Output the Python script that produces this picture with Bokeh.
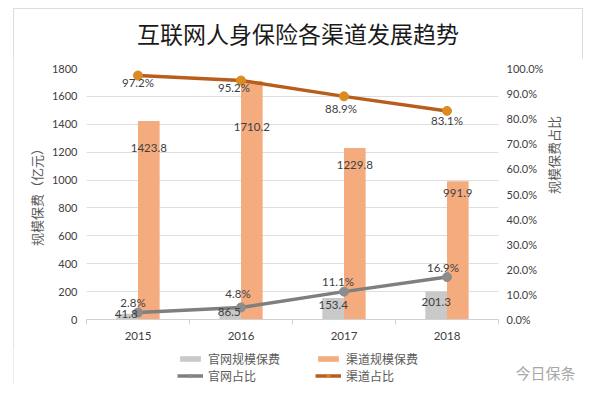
import math
from bokeh.plotting import figure
from bokeh.layouts import column
from bokeh.models import (ColumnDataSource, Range1d, LinearAxis, FixedTicker,
                          PrintfTickFormatter, Legend, LegendItem, Label, Div)
from bokeh.transform import dodge
from bokeh.core.properties import value
from bokeh.embed import file_html
from bokeh.resources import INLINE

# ---- data ----
title_text = "互联网人身保险各渠道发展趋势"
years = ["2015", "2016", "2017", "2018"]
official_premium = [41.8, 86.5, 153.4, 201.3]      # 官网规模保费 (亿元)
channel_premium = [1423.8, 1710.2, 1229.8, 991.9]  # 渠道规模保费 (亿元)
official_share = [2.8, 4.8, 11.1, 16.9]             # 官网占比 (%)
channel_share = [97.2, 95.2, 88.9, 83.1]            # 渠道占比 (%)

left_ticks = [0, 200, 400, 600, 800, 1000, 1200, 1400, 1600, 1800]
right_ticks = [0, 10, 20, 30, 40, 50, 60, 70, 80, 90, 100]

# ---- label pixel offsets (style only) ----
cp_dx = [0, 0, 0, 0]
cp_dy = [27, 46, 17, 12]
op_dx = [-1, -1, 0, 0]
op_dy = [0, 5, 7, 11]
os_dx = [-5, -3, -6, -4]
os_dy = [-10, -14, -10, -10]
cs_dx = [0, -7, -3, 0]
cs_dy = [7, 7, 12, 10]

xs = list(range(len(years)))
src = ColumnDataSource(dict(
    x=xs, op=official_premium, cp=channel_premium,
    os=official_share, cs=channel_share,
    op_t=[f"{v:.1f}" for v in official_premium],
    cp_t=[f"{v:.1f}" for v in channel_premium],
    os_t=[f"{v:.1f}%" for v in official_share],
    cs_t=[f"{v:.1f}%" for v in channel_share],
    cp_dx=cp_dx, cp_dy=cp_dy, op_dx=op_dx, op_dy=op_dy,
    os_dx=os_dx, os_dy=os_dy, cs_dx=cs_dx, cs_dy=cs_dy,
))

GRAY_BAR = "#c9c9c9"
ORANGE_BAR = "#f4ac7f"
GRAY_LINE = "#7f7f7f"
GRAY_MK = "#8c8c8c"
ORANGE_LINE = "#b85e1c"
ORANGE_MK = "#dc8a22"
TXT = "#404040"
NUM_FONT = "Lato"
CJK = "Noto Sans CJK SC"

# ---- title (HTML text) ----
title_div = Div(text=title_text, width=570, height=50, margin=0,
                styles={"font-family": CJK, "font-size": "23px", "line-height": "50px",
                        "text-align": "center", "color": "#1a1a1a"})

# ---- main chart ----
p = figure(width=570, height=290, x_range=Range1d(-0.5, 3.5), y_range=Range1d(0, 1800),
           output_backend="svg", toolbar_location=None, margin=0,
           min_border_left=73, min_border_right=85, min_border_top=10, min_border_bottom=29)
p.frame_align = False
p.extra_y_ranges = {"pct": Range1d(0, 100)}
p.outline_line_color = None
p.background_fill_color = "white"
p.border_fill_color = "white"

bw = 0.21
bar_kw_o = dict(fill_color=GRAY_BAR, line_color=None)
bar_kw_c = dict(fill_color=ORANGE_BAR, line_color=None)
p.vbar(x=dodge("x", -bw / 2), top="op", width=bw, source=src, **bar_kw_o)
p.vbar(x=dodge("x", bw / 2), top="cp", width=bw, source=src, **bar_kw_c)

line_kw_o = dict(line_color=GRAY_LINE, line_width=3.5)
line_kw_c = dict(line_color=ORANGE_LINE, line_width=3.5)
mk_kw_o = dict(size=9, fill_color=GRAY_MK, line_color=GRAY_MK)
mk_kw_c = dict(size=9, fill_color=ORANGE_MK, line_color=ORANGE_MK)
p.line(x="x", y="os", source=src, y_range_name="pct", **line_kw_o)
p.scatter(x="x", y="os", source=src, y_range_name="pct", **mk_kw_o)
p.line(x="x", y="cs", source=src, y_range_name="pct", **line_kw_c)
p.scatter(x="x", y="cs", source=src, y_range_name="pct", **mk_kw_c)

lbl_kw = dict(source=src, text_align="center", text_baseline="middle",
              text_font=value(NUM_FONT), text_font_size="11.5px", text_color=TXT)
p.text(x=dodge("x", bw / 2), y="cp", text="cp_t", x_offset="cp_dx", y_offset="cp_dy", **lbl_kw)
p.text(x=dodge("x", -bw / 2), y="op", text="op_t", x_offset="op_dx", y_offset="op_dy", **lbl_kw)
p.text(x="x", y="os", text="os_t", x_offset="os_dx", y_offset="os_dy", y_range_name="pct", **lbl_kw)
p.text(x="x", y="cs", text="cs_t", x_offset="cs_dx", y_offset="cs_dy", y_range_name="pct", **lbl_kw)

xa = p.xaxis[0]
xa.ticker = FixedTicker(ticks=xs, minor_ticks=[-0.5, 0.5, 1.5, 2.5, 3.5])
xa.major_label_overrides = {i: y for i, y in enumerate(years)}
xa.major_tick_out = 0
xa.major_tick_in = 0
xa.minor_tick_out = 5
xa.minor_tick_in = 0
xa.axis_line_color = "#d0d0d0"
xa.minor_tick_line_color = "#d0d0d0"
xa.major_label_text_font = NUM_FONT
xa.major_label_text_font_size = "11.5px"
xa.major_label_text_color = TXT
xa.major_label_standoff = 7
p.xgrid.visible = False

ya = p.yaxis[0]
ya.ticker = FixedTicker(ticks=left_ticks)
ya.axis_line_color = None
ya.major_tick_out = 0
ya.major_tick_in = 0
ya.minor_tick_out = 0
ya.minor_tick_in = 0
ya.major_tick_line_color = None
ya.minor_tick_line_color = None
ya.major_label_text_font = NUM_FONT
ya.major_label_text_font_size = "11px"
ya.major_label_text_color = TXT
ya.major_label_standoff = 9
ya.axis_label = "规模保费（亿元）"
ya.axis_label_text_font = CJK
ya.axis_label_text_font_size = "13px"
ya.axis_label_text_font_style = "normal"
ya.axis_label_text_color = "#595959"
ya.axis_label_standoff = 3
p.ygrid.ticker = FixedTicker(ticks=left_ticks)
p.ygrid.grid_line_color = "#dedede"

ra = LinearAxis(y_range_name="pct", ticker=FixedTicker(ticks=right_ticks),
                formatter=PrintfTickFormatter(format="%.1f%%"))
ra.axis_line_color = None
ra.major_tick_out = 0
ra.major_tick_in = 0
ra.minor_tick_out = 0
ra.minor_tick_in = 0
ra.major_tick_line_color = None
ra.minor_tick_line_color = None
ra.major_label_text_font = NUM_FONT
ra.major_label_text_font_size = "11px"
ra.major_label_text_color = TXT
ra.major_label_standoff = 8
ra.axis_label = "规模保费占比"
ra.axis_label_orientation = math.pi / 2
ra.axis_label_text_font = CJK
ra.axis_label_text_font_size = "13px"
ra.axis_label_text_font_style = "normal"
ra.axis_label_text_color = "#595959"
ra.axis_label_standoff = 7
p.add_layout(ra, "right")

# ---- legend strip: same series drawn far out of view, used only as legend swatches ----
lg = figure(width=570, height=36, x_range=Range1d(-1001, -1000), y_range=Range1d(-1001, -1000),
            x_axis_type=None, y_axis_type=None, output_backend="svg", toolbar_location=None,
            min_border=0, margin=0)
lg.frame_align = False
lg.outline_line_color = None
lg.grid.visible = False
lg.background_fill_color = "white"
lg.border_fill_color = "white"
sw_bar_o = lg.vbar(x="x", top="op", width=bw, source=src, **bar_kw_o)
sw_bar_c = lg.vbar(x="x", top="cp", width=bw, source=src, **bar_kw_c)
sw_line_o = lg.line(x="x", y="os", source=src, **line_kw_o)
sw_mk_o = lg.scatter(x="x", y="os", source=src, **mk_kw_o)
sw_line_c = lg.line(x="x", y="cs", source=src, **line_kw_c)
sw_mk_c = lg.scatter(x="x", y="cs", source=src, **mk_kw_c)

leg_style = dict(orientation="vertical", padding=0, margin=0, spacing=0,
                 glyph_width=26, glyph_height=7, label_height=16, label_standoff=5,
                 border_line_alpha=0, background_fill_alpha=0,
                 label_text_font=CJK, label_text_font_size="12px",
                 label_text_color="#595959")
leg_a = Legend(items=[LegendItem(label="官网规模保费", renderers=[sw_bar_o]),
                      LegendItem(label="官网占比", renderers=[sw_line_o, sw_mk_o])],
               location=(164, 0), **leg_style)
leg_b = Legend(items=[LegendItem(label="渠道规模保费", renderers=[sw_bar_c]),
                      LegendItem(label="渠道占比", renderers=[sw_line_c, sw_mk_c])],
               location=(302, 0), **leg_style)
lg.add_layout(leg_a, "center")
lg.add_layout(leg_b, "center")

lg.add_layout(Label(x=502, y=12, x_units="screen", y_units="screen", text="今日保条",
                    text_font=CJK, text_font_size="15px", text_color="#a8a8a8",
                    text_baseline="middle"))

layout = column(title_div, p, lg, spacing=0,
                styles={"margin-left": "13px", "margin-top": "8px",
                        "outline": "1px solid #dddddd", "outline-offset": "-1px",
                        "background-color": "white"})

open("out.html", "w").write(file_html(layout, INLINE))
